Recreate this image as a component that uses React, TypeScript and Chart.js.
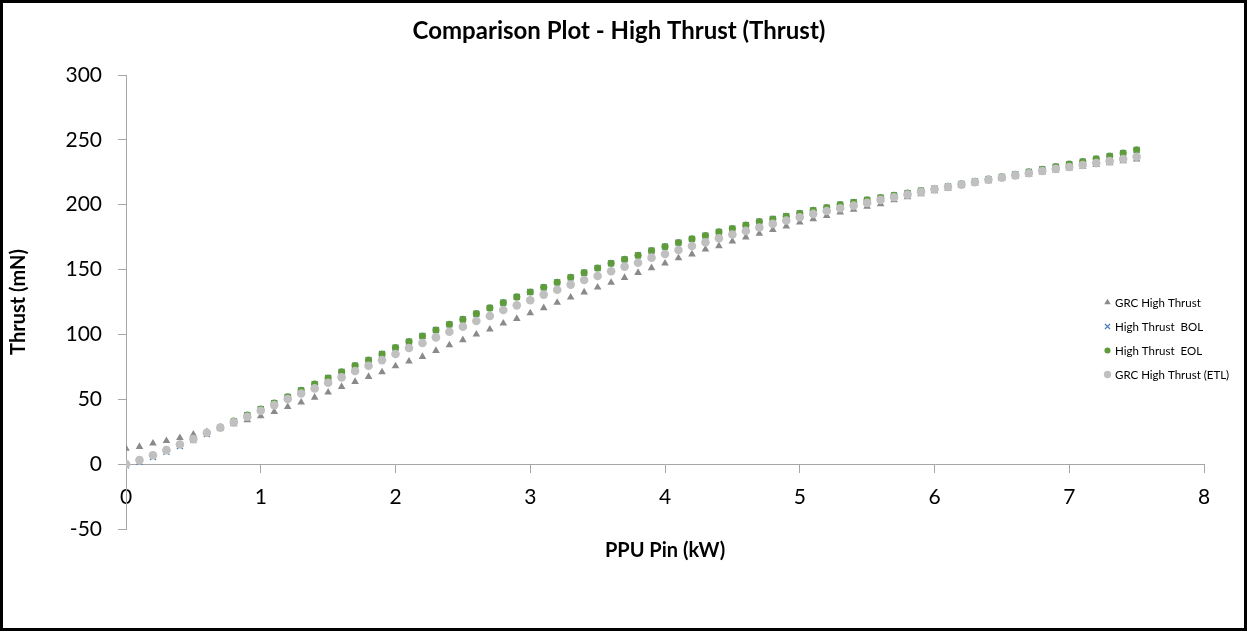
import React, { useEffect, useRef } from 'react';
import { Chart, registerables } from 'chart.js';
import { drawPoint } from 'chart.js/helpers';

Chart.register(...registerables);

const W = 1247;
const H = 631;

const chartTitle = 'Comparison Plot - High Thrust (Thrust)';
const xAxisTitle = 'PPU Pin (kW)';
const yAxisTitle = 'Thrust (mN)';
const seriesNames = ['GRC High Thrust', 'High Thrust  BOL', 'High Thrust  EOL', 'GRC High Thrust (ETL)'];

const xMin = 0;
const xMax = 8;
const xStep = 1;
const yMin = -50;
const yMax = 300;
const yStep = 50;

const pinKW = [
  0.0, 0.1, 0.2, 0.3, 0.4, 0.5, 0.6, 0.7, 0.8, 0.9,
  1.0, 1.1, 1.2, 1.3, 1.4, 1.5, 1.6, 1.7, 1.8, 1.9,
  2.0, 2.1, 2.2, 2.3, 2.4, 2.5, 2.6, 2.7, 2.8, 2.9,
  3.0, 3.1, 3.2, 3.3, 3.4, 3.5, 3.6, 3.7, 3.8, 3.9,
  4.0, 4.1, 4.2, 4.3, 4.4, 4.5, 4.6, 4.7, 4.8, 4.9,
  5.0, 5.1, 5.2, 5.3, 5.4, 5.5, 5.6, 5.7, 5.8, 5.9,
  6.0, 6.1, 6.2, 6.3, 6.4, 6.5, 6.6, 6.7, 6.8, 6.9,
  7.0, 7.1, 7.2, 7.3, 7.4, 7.5,
];

const grcHighThrust = [
  12.1, 13.4, 16.0, 18.0, 20.3, 22.9, 24.9, 27.8, 31.0, 34.0,
  37.0, 40.4, 44.2, 47.6, 51.4, 55.3, 59.7, 63.5, 67.4, 71.0,
  75.6, 79.2, 82.8, 87.4, 91.8, 95.7, 100.1, 103.9, 108.5, 112.1,
  116.5, 120.4, 124.5, 128.6, 132.5, 136.3, 139.9, 143.7, 147.6, 151.2,
  154.8, 158.9, 161.8, 165.6, 168.2, 171.8, 174.9, 177.7, 180.6, 183.4,
  186.5, 189.0, 191.4, 194.2, 196.2, 198.6, 200.6, 203.5, 206.0, 208.3,
  210.5, 212.5, 214.5, 216.5, 218.3, 220.0, 221.7, 223.3, 225.0, 226.5,
  228.0, 229.4, 230.8, 232.2, 233.6, 235.0,
];

const highThrustBOL = [
  -1.0, 1.8, 5.5, 9.5, 14.0, 18.5, 23.2, 28.0, 32.8, 37.8,
  42.4, 47.0, 51.8, 56.8, 61.7, 66.4, 71.2, 75.9, 80.2, 84.9,
  89.8, 94.4, 98.8, 103.4, 107.8, 111.6, 116.0, 120.4, 124.5, 128.9,
  132.7, 136.3, 140.2, 144.0, 147.6, 151.2, 154.8, 157.9, 161.0, 164.6,
  167.7, 170.8, 173.6, 176.2, 179.0, 181.6, 184.2, 187.0, 189.0, 191.1,
  193.4, 195.7, 197.8, 200.1, 201.9, 203.7, 205.5, 207.2, 209.0, 210.8,
  212.5, 214.2, 216.0, 218.0, 219.8, 221.5, 223.4, 225.3, 227.3, 229.3,
  231.3, 233.3, 235.4, 237.5, 239.8, 242.3,
];

const highThrustEOL = [
  0.0, 3.2, 7.0, 11.0, 15.3, 19.5, 24.2, 28.6, 33.2, 37.8,
  42.4, 47.0, 51.8, 56.8, 61.7, 66.4, 71.2, 75.9, 80.2, 84.9,
  89.8, 94.4, 98.8, 103.4, 107.8, 111.6, 116.0, 120.4, 124.5, 128.9,
  132.7, 136.3, 140.2, 144.0, 147.6, 151.2, 154.8, 157.9, 161.0, 164.6,
  167.7, 170.8, 173.6, 176.2, 179.0, 181.6, 184.2, 187.0, 189.0, 191.1,
  193.4, 195.7, 197.8, 200.1, 201.9, 203.7, 205.5, 207.2, 209.0, 210.8,
  212.5, 214.2, 216.0, 218.0, 219.8, 221.5, 223.4, 225.3, 227.3, 229.3,
  231.3, 233.3, 235.4, 237.5, 239.8, 242.3,
];

const grcHighThrustETL = [
  0.0, 3.1, 6.9, 10.8, 15.2, 19.3, 24.2, 28.0, 32.2, 36.5,
  41.1, 45.5, 50.2, 54.5, 58.4, 62.7, 66.9, 71.8, 75.9, 80.2,
  84.9, 89.5, 93.4, 97.7, 102.1, 106.0, 110.3, 114.2, 118.8, 122.4,
  126.3, 130.7, 134.5, 138.4, 142.0, 145.1, 148.7, 152.3, 155.3, 159.2,
  162.0, 165.1, 168.2, 171.0, 174.1, 177.0, 179.8, 182.4, 185.2, 187.8,
  190.3, 192.9, 195.2, 197.3, 199.3, 201.4, 203.7, 205.8, 207.8, 209.9,
  212.0, 213.7, 215.5, 217.4, 219.2, 220.8, 222.6, 224.3, 226.0, 227.6,
  229.1, 230.6, 232.1, 233.6, 235.2, 237.0,
];

const FONT = 'Lato, "Open Sans", "DejaVu Sans", sans-serif';
const AXIS_GRAY = '#a6a6a6';

const toPoints = (ys: number[]) => pinKW.map((x, i) => ({ x, y: ys[i] }));

const markerStyles = [
  { pointStyle: 'triangle', radius: 4.4, fill: '#8a8a8a', stroke: '#8a8a8a', borderWidth: 0 },
  { pointStyle: 'crossRot', radius: 4.2, fill: '#4a7ebb', stroke: '#4a7ebb', borderWidth: 1.2 },
  { pointStyle: 'circle', radius: 3.6, fill: '#5e9c3a', stroke: '#5e9c3a', borderWidth: 0 },
  { pointStyle: 'circle', radius: 4.3, fill: '#c0c0c0', stroke: '#c0c0c0', borderWidth: 0 },
];

const decorPlugin = {
  id: 'decor',
  afterDraw(chart: any) {
    const ctx = chart.ctx as CanvasRenderingContext2D;
    const area = chart.chartArea;
    ctx.save();
    // title
    ctx.fillStyle = '#000';
    ctx.textAlign = 'center';
    ctx.textBaseline = 'middle';
    ctx.font = `bold 24px ${FONT}`;
    ctx.fillText(chartTitle, 619, 31);
    // x axis title
    ctx.font = `bold 20px ${FONT}`;
    ctx.fillText(xAxisTitle, (area.left + area.right) / 2, 551);
    // y axis title
    ctx.save();
    ctx.translate(19, (area.top + area.bottom) / 2);
    ctx.rotate(-Math.PI / 2);
    ctx.fillText(yAxisTitle, 0, 0);
    ctx.restore();
    // legend
    const lx = 1107.5;
    const ly0 = 302.5;
    const gap = 24;
    ctx.font = `11.5px ${FONT}`;
    ctx.textAlign = 'left';
    seriesNames.forEach((name, i) => {
      const m = markerStyles[i];
      const y = ly0 + i * gap;
      ctx.fillStyle = m.fill;
      ctx.strokeStyle = m.stroke;
      ctx.lineWidth = m.borderWidth;
      drawPoint(ctx, { pointStyle: m.pointStyle as any, radius: m.radius * 0.85, borderWidth: m.borderWidth, rotation: 0 }, lx, y);
      ctx.fillStyle = '#000';
      ctx.fillText(name, 1115, y + 0.5);
    });
    // outer border
    ctx.strokeStyle = '#000';
    ctx.lineWidth = 3;
    ctx.strokeRect(1.5, 1.5, W - 3, H - 3);
    ctx.restore();
  },
};

export default function App() {
  const ref = useRef<HTMLCanvasElement>(null);
  useEffect(() => {
    const datasets = [grcHighThrust, highThrustBOL, highThrustEOL, grcHighThrustETL].map((ys, i) => {
      const m = markerStyles[i];
      return {
        label: seriesNames[i],
        data: toPoints(ys),
        showLine: false,
        pointStyle: m.pointStyle,
        pointRadius: m.radius,
        pointHoverRadius: m.radius,
        pointBackgroundColor: m.fill,
        pointBorderColor: m.stroke,
        pointBorderWidth: m.borderWidth,
        backgroundColor: m.fill,
        borderColor: m.stroke,
        order: 3 - i,
      };
    });
    const chart = new Chart(ref.current as HTMLCanvasElement, {
      type: 'scatter',
      data: { datasets } as any,
      plugins: [decorPlugin],
      options: {
        animation: false,
        responsive: false,
        devicePixelRatio: 1,
        events: [],
        layout: { padding: { left: 40, top: 75, right: 43, bottom: 102 } },
        plugins: {
          legend: { display: false },
          title: { display: false },
          tooltip: { enabled: false },
        },
        scales: {
          x: {
            type: 'linear',
            min: xMin,
            max: xMax,
            position: { y: 0 } as any,
            ticks: {
              stepSize: xStep,
              color: '#000',
              padding: 12,
              font: { family: FONT, size: 21 },
            },
            grid: {
              drawOnChartArea: false,
              drawTicks: true,
              tickLength: 8,
              color: AXIS_GRAY,
              lineWidth: 1,
            },
            border: { display: true, color: AXIS_GRAY, width: 1 },
            afterFit: (s: any) => {
              s.height = 0;
            },
          },
          y: {
            type: 'linear',
            min: yMin,
            max: yMax,
            position: 'left',
            ticks: {
              stepSize: yStep,
              color: '#000',
              padding: 16,
              font: { family: FONT, size: 21 },
            },
            grid: {
              drawOnChartArea: false,
              drawTicks: true,
              tickLength: 8,
              color: AXIS_GRAY,
              lineWidth: 1,
            },
            border: { display: true, color: AXIS_GRAY, width: 1 },
            afterFit: (s: any) => {
              s.width = 86;
            },
          },
        },
      } as any,
    });
    return () => chart.destroy();
  }, []);
  return (
    <div style={{ position: 'fixed', left: 0, top: 0, width: W, height: H, background: '#fff' }}>
      <canvas ref={ref} width={W} height={H} style={{ display: 'block', width: W, height: H }} />
    </div>
  );
}
